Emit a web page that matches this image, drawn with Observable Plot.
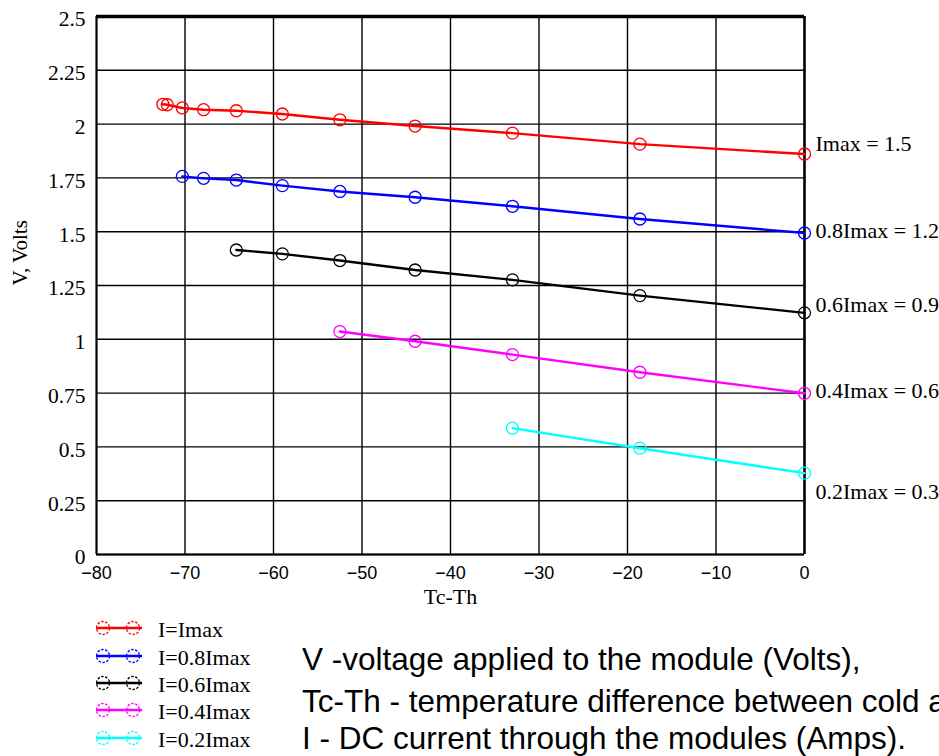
<!DOCTYPE html>
<html>
<head>
<meta charset="utf-8">
<script src="https://cdn.jsdelivr.net/npm/d3@7"></script>
<script src="https://cdn.jsdelivr.net/npm/@observablehq/plot@0.6"></script>
<style>
  body { margin: 0; background: #fff; }
  #wrap { position: relative; width: 939px; height: 756px; overflow: hidden; }
  .leg { position: absolute; font-family: "Liberation Serif", "Times New Roman", serif; font-size: 22px; line-height: 22px; color: #000; white-space: nowrap; }
  .leg svg { position: absolute; left: 0; top: 0; }
  .note { position: absolute; left: 302px; font-family: "Liberation Sans Narrow", "Arial Narrow", "Liberation Sans", sans-serif; font-size: 31.5px; color: #000; white-space: nowrap; line-height: 1; }
</style>
</head>
<body>
<div id="wrap"></div>
<script>
// ---- data ----
const seriesNames = ["I=Imax", "I=0.8Imax", "I=0.6Imax", "I=0.4Imax", "I=0.2Imax"];
const seriesColors = ["#ff0000", "#0000ff", "#000000", "#ff00ff", "#00ffff"];

const dT_imax = [-72.5, -72.0, -70.3, -67.9, -64.2, -59.0, -52.5, -44.0, -33.0, -18.6, 0];
const V_imax  = [2.092, 2.090, 2.075, 2.067, 2.062, 2.047, 2.020, 1.991, 1.958, 1.907, 1.861];

const dT_08 = [-70.3, -67.9, -64.2, -59.0, -52.5, -44.0, -33.0, -18.6, 0];
const V_08  = [1.757, 1.748, 1.740, 1.714, 1.687, 1.660, 1.618, 1.559, 1.494];

const dT_06 = [-64.2, -59.0, -52.5, -44.0, -33.0, -18.6, 0];
const V_06  = [1.415, 1.397, 1.366, 1.322, 1.276, 1.203, 1.123];

const dT_04 = [-52.5, -44.0, -33.0, -18.6, 0];
const V_04  = [1.036, 0.991, 0.929, 0.847, 0.749];

const dT_02 = [-33.0, -18.6, 0];
const V_02  = [0.587, 0.494, 0.378];

const endLabels = ["Imax = 1.5", "0.8Imax = 1.2", "0.6Imax = 0.9", "0.4Imax = 0.6", "0.2Imax = 0.3"];
const endLabelV = [1.907, 1.503, 1.159, 0.762, 0.290];

const xTicks = [-80, -70, -60, -50, -40, -30, -20, -10, 0];
const yTicks = [0, 0.25, 0.5, 0.75, 1, 1.25, 1.5, 1.75, 2, 2.25, 2.5];
const yTickLabels = ["0", "0.25", "0.5", "0.75", "1", "1.25", "1.5", "1.75", "2", "2.25", "2.5"];

const notes = [
  "V -voltage applied to the module (Volts),",
  "Tc-Th - temperature difference between cold and hot sides of the module,",
  "I - DC current through the modules (Amps)."
];

// ---- build table ----
const xs = [dT_imax, dT_08, dT_06, dT_04, dT_02];
const vs = [V_imax, V_08, V_06, V_04, V_02];
const rows = [];
xs.forEach((arr, s) => arr.forEach((x, i) => rows.push({series: seriesNames[s], x, v: vs[s][i]})));
const labelRows = endLabels.map((t, i) => ({t, v: endLabelV[i]}));

const serif = "Liberation Serif, Times New Roman, serif";
const sans = "Liberation Sans, Arial, sans-serif";
const fmtX = d => d === 0 ? "0" : "\u2212" + Math.abs(d);
const fmtY = d => yTickLabels[yTicks.indexOf(d)];

const chart = Plot.plot({
  width: 939,
  height: 615,
  marginLeft: 96,
  marginRight: 135,
  marginTop: 16,
  marginBottom: 61,
  style: {fontFamily: serif, fontSize: "22px", background: "#fff", overflow: "visible"},
  x: {domain: [-80, 0], ticks: xTicks, label: null},
  y: {domain: [0, 2.5], ticks: yTicks, label: null},
  color: {domain: seriesNames, range: seriesColors},
  marks: [
    Plot.gridX(xTicks, {stroke: "#000", strokeOpacity: 1, strokeWidth: 1.4}),
    Plot.gridY(yTicks, {stroke: "#000", strokeOpacity: 1, strokeWidth: 1.4}),
    Plot.ruleX([-80], {stroke: "#000", strokeWidth: 2}),
    Plot.ruleY([0], {stroke: "#000", strokeWidth: 2}),
    Plot.ruleY([2.5], {stroke: "#000", strokeWidth: 3.5}),
    Plot.ruleX([0], {stroke: "#000", strokeWidth: 2.5}),
    Plot.line(rows, {x: "x", y: "v", z: "series", stroke: "series", strokeWidth: 2.4}),
    Plot.dot(rows, {x: "x", y: "v", stroke: "series", r: 6, strokeWidth: 1.3, fill: "none"}),
    Plot.text(labelRows, {x: () => 0, y: "v", text: "t", textAnchor: "start", dx: 11, fontSize: 22, fontFamily: serif, fill: "#000"}),
    Plot.axisX({ticks: xTicks, tickSize: 0, tickPadding: 12, label: null, fontSize: 18, fontFamily: sans, tickFormat: fmtX}),
    Plot.axisY({ticks: yTicks, tickSize: 0, tickPadding: 11, label: null, fontSize: 21.5, fontFamily: serif, dy: 3, tickFormat: fmtY}),
    Plot.text(["Tc-Th"], {frameAnchor: "bottom", dy: 49, fontSize: 22, fontFamily: serif}),
    Plot.text(["V, Volts"], {frameAnchor: "left", dx: -76, rotate: -90, fontSize: 21, fontFamily: serif})
  ]
});

const wrap = document.getElementById("wrap");
wrap.appendChild(chart);

// legend (HTML below the SVG)
const legCenter = [630, 657.5, 684.5, 711.5, 739.5];
seriesNames.forEach((name, i) => {
  const d = document.createElement("div");
  d.className = "leg";
  d.style.left = "96px";
  d.style.top = (legCenter[i] - 11) + "px";
  d.style.width = "220px";
  d.style.height = "22px";
  const c = seriesColors[i];
  d.innerHTML = `<svg width="50" height="22"><line x1="0" y1="9" x2="46" y2="9" stroke="${c}" stroke-width="2.4"/>` +
    `<circle cx="7" cy="9" r="6.5" fill="none" stroke="${c}" stroke-width="1.3" stroke-dasharray="2.5 1.5"/>` +
    `<circle cx="37" cy="9" r="6.5" fill="none" stroke="${c}" stroke-width="1.3" stroke-dasharray="2.5 1.5"/></svg>` +
    `<span style="position:absolute;left:62px;top:0;">${name}</span>`;
  wrap.appendChild(d);
});

const noteTop = [644, 686, 723];
notes.forEach((t, i) => {
  const d = document.createElement("div");
  d.className = "note";
  d.style.top = noteTop[i] + "px";
  d.textContent = t;
  wrap.appendChild(d);
});
</script>
</body>
</html>
